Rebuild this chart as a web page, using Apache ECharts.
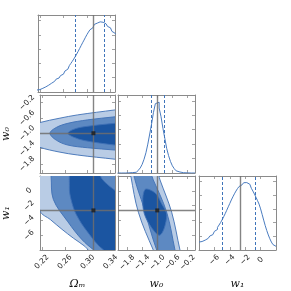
<!DOCTYPE html>
<html><head><meta charset="utf-8">
<script src="https://cdn.jsdelivr.net/npm/echarts@6/dist/echarts.min.js"></script>
<style>html,body{margin:0;padding:0;background:#fff}#c{width:291px;height:291px}</style>
</head><body><div id="c"></div>
<script>
// ---------- data ----------
const omRange = [0.2167, 0.3477];
const w0Range = [-2.04, 0.0];
const w1Range = [-8, 2];
const histRange = [0, 5.4];
const omTicks = [0.22, 0.26, 0.30, 0.34];
const w0Ticks = [-1.8, -1.4, -1.0, -0.6, -0.2];
const w1Ticks = [-6, -4, -2, 0];
const histTicks = [1, 2, 3, 4, 5];
const truthOm = 0.31, truthW0 = -1.0, truthW1 = -2.65;
const quantOm = [0.278, 0.3346];
const quantW0 = [-1.17, -0.82];
const quantW1 = [-4.97, -0.64];

const omBinStart = 0.215, omBinWidth = 0.0025;
const omHist = [0.14,0.17,0.22,0.26,0.31,0.36,0.42,0.48,0.55,0.62,0.68,0.75,0.82,0.90,0.98,1.06,1.15,1.25,1.36,1.47,1.60,1.72,1.85,2.0,2.15,2.31,2.48,2.66,2.85,3.05,3.25,3.45,3.64,3.84,4.03,4.2,4.36,4.5,4.63,4.74,4.83,4.89,4.92,4.92,4.89,4.84,4.78,4.7,4.6,4.5,4.38,4.25,4.13,4.02];
const w0BinStart = -2.05, w0BinWidth = 0.05;
const w0Hist = [0,0,0,0,0.01,0.01,0.02,0.03,0.04,0.05,0.1,0.2,0.35,0.6,0.95,1.4,2.0,2.7,3.4,4.2,4.8,4.9,4.5,3.9,3.1,2.4,1.7,1.2,0.8,0.5,0.3,0.15,0.07,0.04,0.02,0.01,0.01,0,0,0,0];
const w1BinStart = -8, w1BinWidth = 0.2;
const w1Hist = [0.58,0.62,0.67,0.72,0.78,0.85,0.93,1.02,1.12,1.23,1.36,1.5,1.65,1.82,2.0,2.2,2.42,2.65,2.9,3.15,3.4,3.65,3.88,4.1,4.3,4.48,4.63,4.76,4.85,4.91,4.92,4.88,4.8,4.67,4.5,4.3,4.08,3.85,3.6,3.35,3.0,2.6,2.18,1.78,1.42,1.1,0.82,0.58,0.4,0.27];

// contours (data units)
const omW0Light = [[0.19,-0.85],[0.2167,-0.72],[0.25,-0.61],[0.2825,-0.52],[0.3477,-0.39],[0.37,-0.35],[0.37,-1.72],[0.3477,-1.68],[0.2825,-1.57],[0.25,-1.49],[0.2167,-1.37],[0.19,-1.2]];
const omW0Mid = [[0.2342,-1.0],[0.245,-0.85],[0.2655,-0.74],[0.30,-0.65],[0.3477,-0.57],[0.37,-0.54],[0.37,-1.47],[0.3477,-1.44],[0.30,-1.38],[0.2655,-1.31],[0.245,-1.18]];
const omW0Dark = [[0.2655,-1.0],[0.275,-0.9],[0.2938,-0.83],[0.3477,-0.74],[0.37,-0.72],[0.37,-1.33],[0.3477,-1.31],[0.2938,-1.19],[0.275,-1.1]];

const omW1Light = [[0.20,5],[0.2167,-2.7],[0.235,-3.9],[0.255,-5.2],[0.275,-6.4],[0.295,-7.5],[0.31,-8.6],[0.37,-9],[0.37,5]];
const omW1Mid = [[0.232,5],[0.236,2],[0.240,-1.16],[0.2655,-4.2],[0.29,-6.6],[0.3108,-8],[0.33,-9],[0.37,-9],[0.37,5]];
const omW1Dark = [[0.273,3],[0.268,0.5],[0.271,-1.2],[0.28,-3.2],[0.2995,-5.54],[0.3278,-8],[0.36,-9],[0.37,-9],[0.37,-1.2],[0.345,0.2],[0.325,1.6],[0.315,3]];

const w0W1Light = [[-1.75,4],[-1.70,2],[-1.50,-2.9],[-1.105,-8],[-0.9,-10],[-0.3,-10],[-0.398,-8],[-0.618,-2.9],[-0.927,1.47],[-1.1,4]];
const w0W1Mid = [[-1.62,3],[-1.59,1.47],[-1.37,-2.04],[-1.015,-8],[-0.8,-10],[-0.45,-10],[-0.53,-8],[-0.75,-2.9],[-1.105,1.47],[-1.25,3]];
const w0W1Dark = [[-1.325,0.16],[-1.37,-2.47],[-1.2,-4.6],[-0.927,-5.99],[-0.75,-3.36],[-0.9,-1.6],[-1.06,-0.28]];

// ---------- layout ----------
const cols = [[38,77],[118,77],[199,77]];
const rows = [[15,77],[95,78],[176,76]];
const lightC = '#b9cce5', midC = '#5d89c2', darkC = '#1b55a1', edgeC = '#3f70b5';
const axisC = '#8a8a8a', truthC = 'rgba(110,110,110,0.85)', quantC = '#3f74ba';

const grids = [], xAxes = [], yAxes = [], series = [];
const fmt = d => v => (v < 0 ? '\u2212' : '') + Math.abs(v).toFixed(d);
const labelFont = {fontFamily:'DejaVu Sans', fontSize:7.5, color:'#222'};
const nameStyle = {fontFamily:'DejaVu Serif', fontStyle:'italic', fontSize:11, color:'#111'};

function addPanel(r, c, xr, yr, xt, yt, o) {
  const gi = grids.length;
  grids.push({left: cols[c][0], top: rows[r][0], width: cols[c][1], height: rows[r][1]});
  const line = {show:true, onZero:false, lineStyle:{color:axisC, width:1}};
  const tick = t => ({show:true, inside:true, length:3, customValues:t, lineStyle:{color:axisC, width:0.8}});
  const xi = xAxes.length;
  xAxes.push({type:'value', gridIndex:gi, min:xr[0], max:xr[1], position:'bottom', axisLine:line, axisTick:tick(xt),
    splitLine:{show:false},
    axisLabel: o.xLabel ? Object.assign({show:true, customValues:xt, rotate:45, align:'center', verticalAlign:'middle', margin:o.xMargin, formatter:o.xFmt}, labelFont) : {show:false},
    name: o.xName || '', nameLocation:'middle', nameGap:29, nameTextStyle:nameStyle});
  xAxes.push({type:'value', gridIndex:gi, min:xr[0], max:xr[1], position:'top', axisLine:line, axisTick:tick(xt), axisLabel:{show:false}, splitLine:{show:false}});
  const yi = yAxes.length;
  yAxes.push({type:'value', gridIndex:gi, min:yr[0], max:yr[1], position:'left', axisLine:line, axisTick:tick(yt),
    splitLine:{show:false},
    axisLabel: o.yLabel ? Object.assign({show:true, customValues:yt, rotate:45, align:'center', verticalAlign:'middle', margin:o.yMargin, formatter:o.yFmt}, labelFont) : {show:false},
    name: o.yName || '', nameLocation:'middle', nameGap:28, nameTextStyle:nameStyle});
  yAxes.push({type:'value', gridIndex:gi, min:yr[0], max:yr[1], position:'right', axisLine:line, axisTick:tick(yt), axisLabel:{show:false}, splitLine:{show:false}});
  return {xi, yi, xr, yr};
}

function histSeries(p, start, width, vals, truth, q) {
  const pts = vals.map((v,i) => [start + i*width, v]);
  pts.push([start + vals.length*width, vals[vals.length-1]]);
  series.push({type:'line', xAxisIndex:p.xi, yAxisIndex:p.yi, data:pts, step:'end', symbol:'none', clip:true,
    lineStyle:{color:'#4a7cc0', width:1}, silent:true, z:3,
    markLine:{silent:true, symbol:'none', label:{show:false}, animation:false,
      data:[{xAxis:truth, lineStyle:{color:truthC, width:1.4, type:'solid'}},
            {xAxis:q[0], lineStyle:{color:quantC, width:1, type:[3,2]}},
            {xAxis:q[1], lineStyle:{color:quantC, width:1, type:[3,2]}}]}});
}

function polySeries(p, pts, fill, z) {
  series.push({type:'custom', xAxisIndex:p.xi, yAxisIndex:p.yi, coordinateSystem:'cartesian2d', clip:true, silent:true, z:z,
    data:[[(p.xr[0]+p.xr[1])/2, (p.yr[0]+p.yr[1])/2]],
    renderItem:(params, api) => {
      const cs = params.coordSys;
      return {type:'polygon', shape:{points:pts.map(d => api.coord(d)), smooth:0.35},
        style:{fill:fill, stroke:edgeC, lineWidth:0.9},
        clipPath:{type:'rect', shape:{x:cs.x, y:cs.y, width:cs.width, height:cs.height}}};
    }});
}

function truthSeries(p, tx, ty) {
  series.push({type:'scatter', xAxisIndex:p.xi, yAxisIndex:p.yi, data:[[tx,ty]], symbol:'rect', symbolSize:4,
    itemStyle:{color:'#1a1a1a'}, silent:true, z:6,
    markLine:{silent:true, symbol:'none', label:{show:false}, animation:false, z:5,
      lineStyle:{color:truthC, width:1.4, type:'solid'},
      data:[{xAxis:tx},{yAxis:ty}]}});
}

// panels
const p00 = addPanel(0,0, omRange, histRange, omTicks, histTicks, {});
histSeries(p00, omBinStart, omBinWidth, omHist, truthOm, quantOm);

const p10 = addPanel(1,0, omRange, w0Range, omTicks, w0Ticks, {yLabel:true, yMargin:13, yFmt:fmt(1), yName:'w\u2080'});
polySeries(p10, omW0Light, lightC, 1); polySeries(p10, omW0Mid, midC, 2); polySeries(p10, omW0Dark, darkC, 3);
truthSeries(p10, truthOm, truthW0);

const p11 = addPanel(1,1, w0Range, histRange, w0Ticks, histTicks, {});
histSeries(p11, w0BinStart, w0BinWidth, w0Hist, truthW0, quantW0);

const p20 = addPanel(2,0, omRange, w1Range, omTicks, w1Ticks, {xLabel:true, xMargin:12, xFmt:fmt(2), xName:'\u03A9\u2098', yLabel:true, yMargin:11, yFmt:fmt(0), yName:'w\u2081'});
polySeries(p20, omW1Light, lightC, 1); polySeries(p20, omW1Mid, midC, 2); polySeries(p20, omW1Dark, darkC, 3);
truthSeries(p20, truthOm, truthW1);

const p21 = addPanel(2,1, w0Range, w1Range, w0Ticks, w1Ticks, {xLabel:true, xMargin:12.5, xFmt:fmt(1), xName:'w\u2080'});
polySeries(p21, w0W1Light, lightC, 1); polySeries(p21, w0W1Mid, midC, 2); polySeries(p21, w0W1Dark, darkC, 3);
truthSeries(p21, truthW0, truthW1);

const p22 = addPanel(2,2, w1Range, histRange, w1Ticks, histTicks, {xLabel:true, xMargin:10, xFmt:fmt(0), xName:'w\u2081'});
histSeries(p22, w1BinStart, w1BinWidth, w1Hist, truthW1, quantW1);

const chart = echarts.init(document.getElementById('c'), null, {renderer:'canvas'});
chart.setOption({animation:false, backgroundColor:'#fff', grid:grids, xAxis:xAxes, yAxis:yAxes, series:series});
</script></body></html>
